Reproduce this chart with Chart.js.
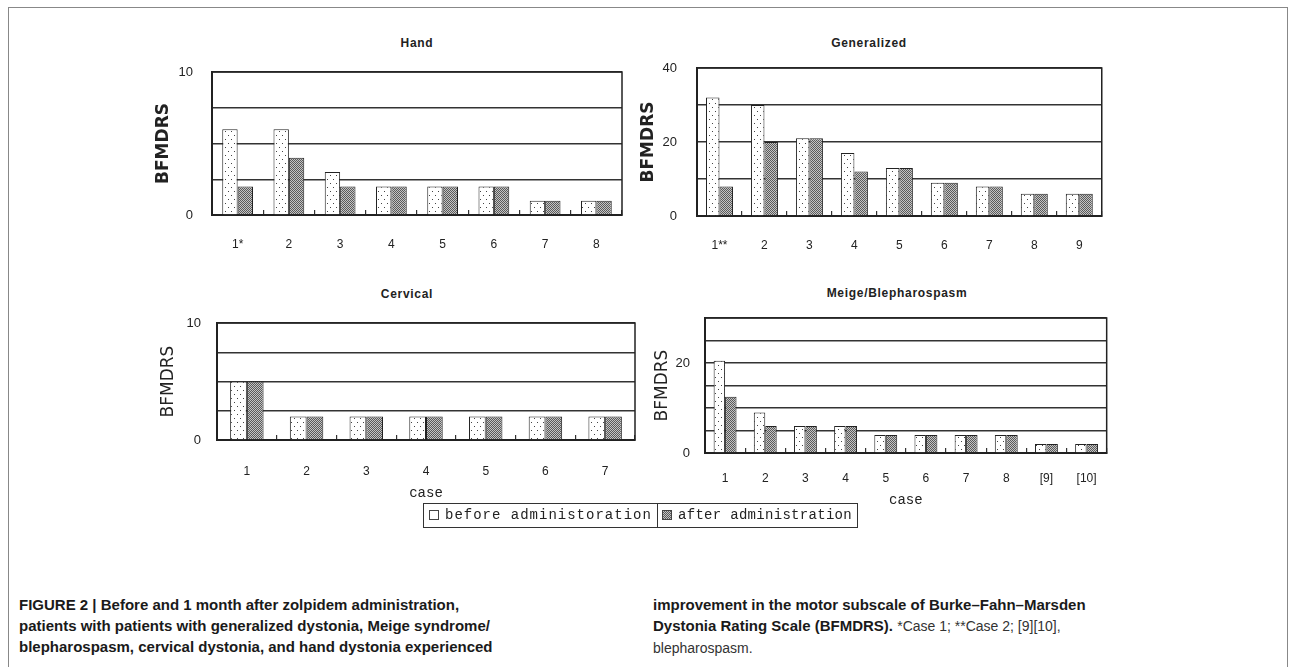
<!DOCTYPE html>
<html>
<head>
<meta charset="utf-8">
<script src="https://cdn.jsdelivr.net/npm/chart.js@4.4.1/dist/chart.umd.min.js"></script>
<style>
  html, body { margin: 0; padding: 0; background: #fff; }
  #page { position: relative; width: 1292px; height: 667px; overflow: hidden; background: #fff; }
  #frame { position: absolute; left: 8px; top: 7px; width: 1278px; height: 720px; border: 1px solid #888; }
  canvas { position: absolute; }
  .ptitle { position: absolute; font-family: "Liberation Sans", Arial, sans-serif; font-weight: bold; font-size: 12px;
            letter-spacing: 0.7px; color: #222; transform: translate(-50%, -50%); white-space: nowrap; }
  #legend { position: absolute; left: 423px; top: 503px; width: 433px; height: 23px; border: 1px solid #333;
            font-family: "Liberation Mono", "DejaVu Sans Mono", monospace; font-size: 14px; color: #222; }
  #legend .item { position: absolute; top: 0; height: 23px; line-height: 23px; white-space: nowrap; }
  #legend .sw { display: inline-block; width: 8px; height: 8px; border: 1px solid #444; margin-right: 6px; vertical-align: -1px; }
  #legend .sep { position: absolute; left: 233px; top: 0; width: 1px; height: 23px; background: #333; }
  .cap { position: absolute; font-family: "Liberation Sans", Arial, sans-serif; font-size: 15px; line-height: 21px; color: #1a1a1a; white-space: nowrap; }
  .cap b { font-weight: bold; }
  .cap .lt { font-weight: normal; color: #333; font-size: 14px; }
</style>
</head>
<body>
<div id="page">
  <div id="frame"></div>

  <div class="ptitle" style="left:417px; top:43px;">Hand</div>
  <div class="ptitle" style="left:869px; top:43px;">Generalized</div>
  <div class="ptitle" style="left:407px; top:294px;">Cervical</div>
  <div class="ptitle" style="left:897px; top:293px;">Meige/Blepharospasm</div>

  <canvas id="hand" width="490" height="216" style="left:140px; top:42px;"></canvas>
  <canvas id="gen" width="480" height="220" style="left:630px; top:38px;"></canvas>
  <canvas id="cer" width="500" height="217" style="left:140px; top:293px;"></canvas>
  <canvas id="mei" width="490" height="222" style="left:630px; top:288px;"></canvas>

  <div id="legend">
    <div class="item" style="left:5px; letter-spacing:1px;"><span class="sw" id="swBefore"></span>before administoration</div>
    <div class="sep"></div>
    <div class="item" style="left:238px; letter-spacing:0.3px;"><span class="sw" id="swAfter"></span>after administration</div>
  </div>

  <div class="cap" style="left:19px; top:594px;">
    <b>FIGURE 2 | Before and 1 month after zolpidem administration,</b><br>
    <b>patients with patients with generalized dystonia, Meige syndrome/</b><br>
    <b>blepharospasm, cervical dystonia, and hand dystonia experienced</b>
  </div>
  <div class="cap" style="left:653px; top:594px;">
    <b>improvement in the motor subscale of Burke–Fahn–Marsden</b><br>
    <b>Dystonia Rating Scale (BFMDRS).</b> <span class="lt">*Case 1; **Case 2; [9][10],</span><br>
    <span class="lt">blepharospasm.</span>
  </div>
</div>

<script>
// ---- data ----
const handCases = ['1*', '2', '3', '4', '5', '6', '7', '8'];
const handBefore = [6, 6, 3, 2, 2, 2, 1, 1];
const handAfter = [2, 4, 2, 2, 2, 2, 1, 1];
const handTicks = [0, 10];

const genCases = ['1**', '2', '3', '4', '5', '6', '7', '8', '9'];
const genBefore = [32, 30, 21, 17, 13, 9, 8, 6, 6];
const genAfter = [8, 20, 21, 12, 13, 9, 8, 6, 6];
const genTicks = [0, 20, 40];

const cerCases = ['1', '2', '3', '4', '5', '6', '7'];
const cerBefore = [5, 2, 2, 2, 2, 2, 2];
const cerAfter = [5, 2, 2, 2, 2, 2, 2];
const cerTicks = [0, 10];

const meiCases = ['1', '2', '3', '4', '5', '6', '7', '8', '[9]', '[10]'];
const meiBefore = [20.5, 9, 6, 6, 4, 4, 4, 4, 2, 2];
const meiAfter = [12.5, 6, 6, 6, 4, 4, 4, 4, 2, 2];
const meiTicks = [0, 20];

const seriesNames = ['before administoration', 'after administration'];

// fill patterns: sparse dots for "before", fine gray hatch for "after"
function dotPattern() {
    const c = document.createElement('canvas');
    c.width = 6; c.height = 8;
    const g = c.getContext('2d');
    g.fillStyle = '#fff';
    g.fillRect(0, 0, 6, 8);
    g.fillStyle = '#444';
    g.fillRect(1, 1, 1, 1);
    g.fillRect(4, 5, 1, 1);
    return g.createPattern(c, 'repeat');
}
function hatchPattern() {
    const c = document.createElement('canvas');
    c.width = 2; c.height = 2;
    const g = c.getContext('2d');
    g.fillStyle = '#c4c4c4';
    g.fillRect(0, 0, 2, 2);
    g.fillStyle = '#5a5a5a';
    g.fillRect(0, 0, 1, 1);
    g.fillRect(1, 1, 1, 1);
    return g.createPattern(c, 'repeat');
}
const beforeFill = dotPattern();
const afterFill = hatchPattern();
document.getElementById('swBefore').style.background = '#fff';
document.getElementById('swAfter').style.background = 'repeating-conic-gradient(#5a5a5a 0 25%, #c4c4c4 0 50%) 0 0 / 2px 2px';

// box around the plot area
const plotFrame = {
    id: 'plotFrame',
    beforeDatasetsDraw(chart) {
        const a = chart.chartArea, ctx = chart.ctx;
        ctx.save();
        ctx.strokeStyle = '#222';
        ctx.lineWidth = 1.5;
        ctx.strokeRect(a.left, a.top, a.right - a.left, a.bottom - a.top);
        ctx.restore();
    }
};

function makePanel(p) {
    const cv = document.getElementById(p.id);
    new Chart(cv, {
        type: 'bar',
        data: {
            labels: p.labels,
            datasets: [
                { label: seriesNames[0], data: p.before, backgroundColor: beforeFill },
                { label: seriesNames[1], data: p.after, backgroundColor: afterFill }
            ]
        },
        options: {
            responsive: false,
            animation: false,
            layout: { padding: { top: 30, right: p.padR, left: 0, bottom: 0 } },
            datasets: {
                bar: {
                    categoryPercentage: p.cat,
                    barPercentage: 1.0,
                    borderColor: '#222',
                    borderWidth: 1,
                    borderSkipped: 'start'
                }
            },
            plugins: { legend: { display: false }, tooltip: { enabled: false } },
            scales: {
                x: {
                    offset: true,
                    grid: { display: true, drawOnChartArea: false, drawTicks: true, tickLength: -5, offset: true, color: '#333', lineWidth: 1.2 },
                    border: { display: true, color: '#222', width: 2 },
                    ticks: { padding: p.xPad, color: '#222', font: { family: 'Liberation Sans', size: 12 }, autoSkip: false, maxRotation: 0 },
                    title: p.xTitle
                        ? { display: true, text: 'case', color: '#222', font: { family: 'Liberation Mono', size: 14 }, padding: { top: 0, bottom: p.xTitlePad } }
                        : { display: false },
                    afterFit: s => { s.height = p.xh; }
                },
                y: {
                    min: 0,
                    max: p.max,
                    grid: { color: '#333', lineWidth: 1.5, drawTicks: false },
                    border: { display: true, color: '#222', width: 2 },
                    ticks: {
                        stepSize: p.step,
                        padding: p.yPad,
                        color: '#222',
                        font: { family: 'Liberation Sans', size: 13 },
                        callback: v => (p.tickLabels.includes(v) ? String(v) : '')
                    },
                    title: {
                        display: true, text: 'BFMDRS', color: '#222',
                        font: { family: 'DejaVu Sans', size: 17, weight: p.bold ? 'bold' : 'normal' },
                        padding: { top: p.yTitlePad, bottom: 0 }
                    },
                    afterFit: s => { s.width = p.yw; }
                }
            }
        },
        plugins: [plotFrame]
    });
}

makePanel({ id: 'hand', labels: handCases, before: handBefore, after: handAfter, tickLabels: handTicks,
    max: 10, step: 2.5, cat: 0.6, yw: 72, padR: 8, xh: 43, xPad: 27, yPad: 19, yTitlePad: 13.8, bold: true });
makePanel({ id: 'gen', labels: genCases, before: genBefore, after: genAfter, tickLabels: genTicks,
    max: 40, step: 5, cat: 0.6, yw: 67, padR: 7, xh: 42, xPad: 27, yPad: 20, yTitlePad: 8.8, bold: true });
makePanel({ id: 'cer', labels: cerCases, before: cerBefore, after: cerAfter, tickLabels: cerTicks,
    max: 10, step: 2.5, cat: 0.56, yw: 77, padR: 5, xh: 70, xPad: 29, yPad: 16, yTitlePad: 18.8, bold: false,
    xTitle: true, xTitlePad: 8.6 });
makePanel({ id: 'mei', labels: meiCases, before: meiBefore, after: meiAfter, tickLabels: meiTicks,
    max: 30, step: 5, cat: 0.57, yw: 75, padR: 8, xh: 57, xPad: 23, yPad: 15, yTitlePad: 22.8, bold: false,
    xTitle: true, xTitlePad: 1.6 });
</script>
</body>
</html>
